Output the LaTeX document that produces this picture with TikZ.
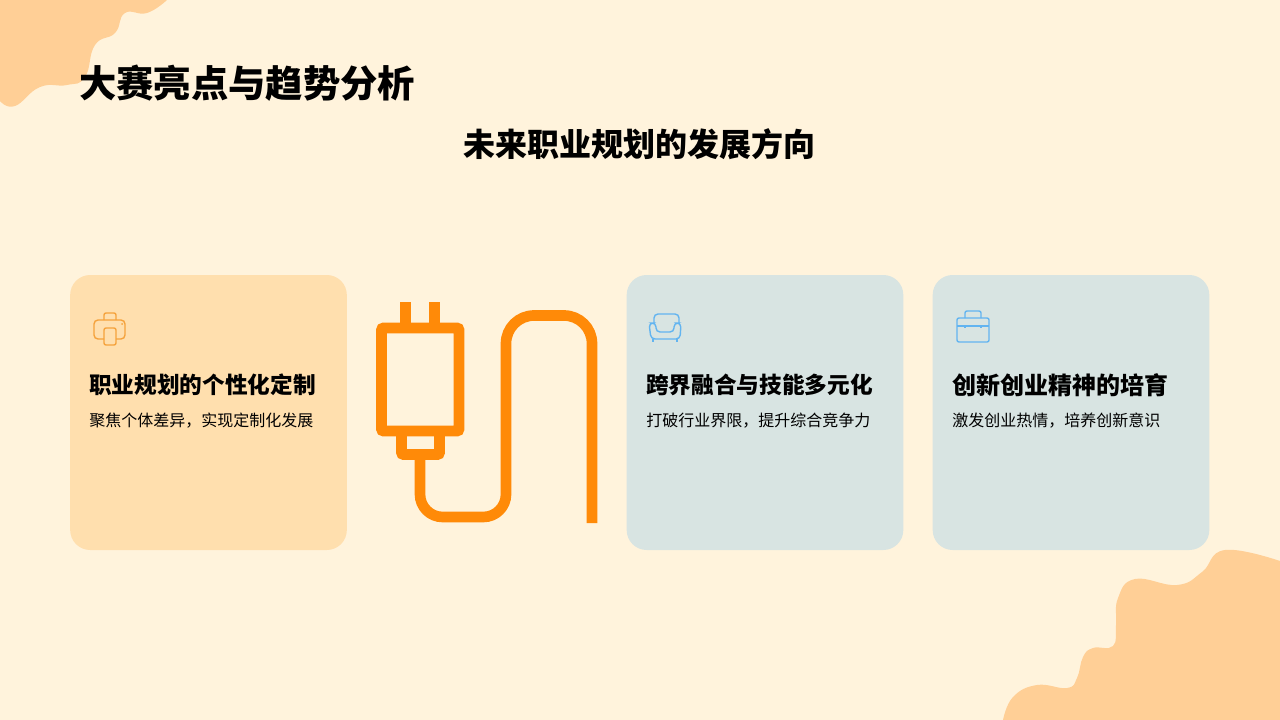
\documentclass[tikz,border=0pt]{standalone}
\usepackage{fontspec}
\setmainfont{Noto Sans CJK SC}
\definecolor{fond}{HTML}{FFF3DC}
\definecolor{tache}{HTML}{FFCF96}
\definecolor{carteA}{HTML}{FFDFAE}
\definecolor{carteB}{HTML}{D8E4E2}
\definecolor{prise}{HTML}{FF8A08}
\definecolor{iconeA}{HTML}{F5A23C}
\definecolor{iconeB}{HTML}{62B4F0}

\begin{document}
\begin{tikzpicture}[x=0.75pt, y=-0.75pt]
			\tikzset{carte/.style={rounded corners=15pt, minimum width=207.5pt, minimum height=206.25pt, inner sep=0pt},
			titre/.style={anchor=west, inner sep=0pt, font=\fontsize{28}{34}\selectfont\bfseries},
			soustitre/.style={inner sep=0pt, font=\fontsize{24}{30}\selectfont\bfseries},
			titrecarte/.style={anchor=west, inner sep=0pt, font=\fontsize{17}{22}\selectfont\bfseries},
			textecarte/.style={anchor=west, inner sep=0pt, font=\fontsize{12}{16}\selectfont},
			fil/.style={draw=prise, line width=8pt},
			icone/.style={line width=1.05pt, rounded corners=1.5pt}}

			\useasboundingbox (0, 0) rectangle (1280, 720);
			\fill[fond] (0, 0) rectangle (1280, 720);

			% taches
			\fill[tache] plot[smooth, tension=0.8] coordinates {(0, 101) (15, 106) (40, 87) (67, 85) (85, 77) (95, 45) (115, 33) (125, 13) (147, 13) (167, 0)} -- (0, 0) -- cycle;
			\fill[tache] plot[smooth, tension=0.75] coordinates {(1003, 720) (1013, 697) (1037, 685) (1067, 688) (1077, 678) (1083, 657) (1093, 648) (1113, 646) (1116, 625) (1118, 598) (1135, 579) (1177, 585) (1202, 572) (1225, 550) (1280, 561)} -- (1280, 720) -- cycle;

			% cartes
			\node[carte, fill=carteA] (c1) at (208.5, 412.5) {};
			\node[carte, fill=carteB] (c2) at (765, 412.5) {};
			\node[carte, fill=carteB] (c3) at (1071, 412.5) {};

			\node[titre] (t) at (79, 83) {大赛亮点与趋势分析};
			\node[soustitre] (st) at (639.5, 144) {未来职业规划的发展方向};

			\node[titrecarte] (t1) at (89, 385) {职业规划的个性化定制};
			\node[textecarte] (x1) at (89, 421) {聚焦个体差异，实现定制化发展};
			\node[titrecarte] (t2) at (646, 385) {跨界融合与技能多元化};
			\node[textecarte] (x2) at (646, 421) {打破行业界限，提升综合竞争力};
			\node[titrecarte, font=\fontsize{18}{22}\selectfont\bfseries] (t3) at (952, 385) {创新创业精神的培育};
			\node[textecarte] (x3) at (952, 421) {激发创业热情，培养创新意识};

			% prise
			\draw[fil, rounded corners=1.5pt] (381.5, 328) rectangle (459, 431);
			\draw[fil, rounded corners=1.5pt] (401.5, 431) -- (401.5, 454.5) -- (439.5, 454.5) -- (439.5, 431);
			\draw[fil] (405.5, 302) -- (405.5, 328);
			\draw[fil] (434.5, 302) -- (434.5, 328);
			\draw[fil] (420, 454.5) [rounded corners=17pt] -- (420, 517) -- (506, 517) [rounded corners=21pt] -- (506, 315.5) -- (592, 315.5) -- (592, 523);

			% imprimante
			\draw[icone, draw=iconeA] (104, 320) -- (104, 313) -- (116, 313) -- (116, 320);
			\draw[icone, draw=iconeA, rounded corners=3pt] (104, 339) -- (94, 339) -- (94, 320) -- (125, 320) -- (125, 339) -- (116, 339);
			\draw[icone, draw=iconeA] (104, 328) rectangle (116, 345);
			\fill[iconeA] (122, 324) circle (1);

			% fauteuil
			\draw[icone, draw=iconeB, rounded corners=3pt] (654, 323) -- (654, 314) -- (679, 314) -- (679, 323);
			\draw[icone, draw=iconeB, rounded corners=3pt] (656, 332) -- (656, 323) -- (649, 323) -- (651, 339) -- (680, 339) -- (681, 323) -- (674, 323) -- (674, 332) -- cycle;
			\draw[icone, draw=iconeB] (653, 339) -- (653, 342);
			\draw[icone, draw=iconeB] (677, 339) -- (677, 342);

			% mallette
			\draw[icone, draw=iconeB] (957, 318) rectangle (989, 342);
			\draw[icone, draw=iconeB] (965, 318) -- (965, 311) -- (981, 311) -- (981, 318);
			\draw[icone, draw=iconeB] (957, 326) -- (989, 326);
			\draw[icone, draw=iconeB] (965, 326) -- (965, 328);
			\draw[icone, draw=iconeB] (981, 326) -- (981, 328);
\end{tikzpicture}
\end{document}
